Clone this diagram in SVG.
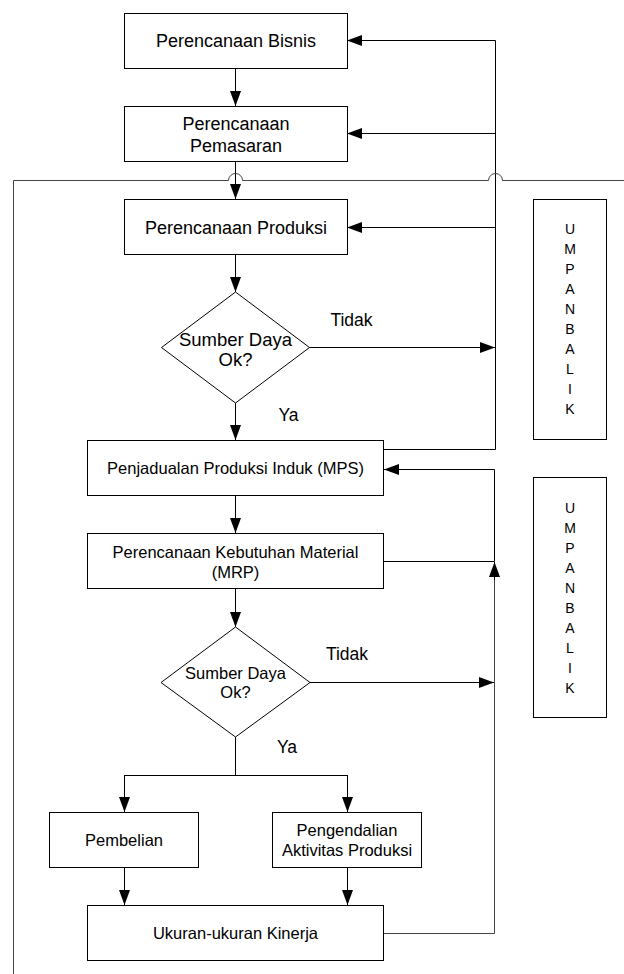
<svg xmlns="http://www.w3.org/2000/svg" width="624" height="974" viewBox="0 0 624 974">
  <style>
    .box { fill: #fff; stroke: #000; stroke-width: 1; }
    .lbl { font-family: "Liberation Sans", Arial, sans-serif; font-size: 18px; fill: #000; text-anchor: middle; }
    .sm { font-size: 16.5px; }
    .dl { font-size: 18.5px; }
    .tg { font-size: 17.5px; }
    .vl { font-family: "Liberation Sans", Arial, sans-serif; font-size: 14px; fill: #000; text-anchor: middle; }
    .ln { fill: none; stroke: #000; stroke-width: 1; }
    .gr { fill: none; stroke: #444; stroke-width: 1; }
    .arr { marker-end: url(#ah); }
  </style>
  <defs>
    <marker id="ah" markerUnits="userSpaceOnUse" markerWidth="15" markerHeight="11" refX="15" refY="5.5" orient="auto">
      <path d="M0,0 L15,5.5 L0,11 z" fill="#000"/>
    </marker>
  </defs>
  <rect width="624" height="974" fill="#fff"/>

  <g id="connectors">
    <!-- main downward flow -->
    <path class="ln arr" d="M235.5,68 V106"/>
    <path class="ln" d="M235.5,162 V199"/>
    <path class="ln arr" d="M235.5,175 V199"/>
    <path class="ln arr" d="M235.5,254 V292"/>
    <path class="ln arr" d="M235.5,403 V440"/>
    <path class="ln arr" d="M235.5,496 V533"/>
    <path class="ln arr" d="M235.5,589 V627"/>
    <path class="ln" d="M235.5,737 V775.5 M124.5,775.5 H347.5"/>
    <path class="ln arr" d="M124.5,775 V812"/>
    <path class="ln arr" d="M347.5,775 V812"/>
    <path class="ln arr" d="M124.5,868 V905"/>
    <path class="ln arr" d="M347.5,868 V905"/>

    <!-- upper feedback loop -->
    <path class="ln" d="M384,449.5 H495.5 V40.5"/>
    <path class="ln arr" d="M495.5,40.5 H347"/>
    <path class="ln arr" d="M495.5,133.5 H347"/>
    <path class="ln arr" d="M495.5,227.5 H347"/>
    <path class="ln arr" d="M309,347.5 H495"/>

    <!-- lower feedback loop -->
    <path class="gr" d="M384,933.5 H494.5 V577"/>
    <path class="ln arr" d="M494.5,580 V562"/>
    <path class="ln" d="M384,561.5 H494.5 V469.5"/>
    <path class="ln arr" d="M494.5,469.5 H384"/>
    <path class="ln arr" d="M310,682.5 H494"/>

    <!-- crossing line with hops -->
    <path class="gr" d="M13.5,180.5 H228.5 A7,7 0 0 1 242.5,180.5 H488.5 A7,7 0 0 1 502.5,180.5 H624"/>
    <path class="gr" d="M13.5,180.5 V974"/>
  </g>

  <g id="n-bisnis">
    <rect class="box" x="124.5" y="13.5" width="223" height="55"/>
    <text class="lbl" x="236" y="46.5">Perencanaan Bisnis</text>
  </g>
  <g id="n-pemasaran">
    <rect class="box" x="124.5" y="106.5" width="223" height="55"/>
    <text class="lbl" x="236" y="129.5">Perencanaan</text>
    <text class="lbl" x="236" y="151.5">Pemasaran</text>
  </g>
  <g id="n-produksi">
    <rect class="box" x="124.5" y="199.5" width="223" height="55"/>
    <text class="lbl" x="236" y="233.5">Perencanaan Produksi</text>
  </g>
  <g id="d-sumber1">
    <polygon class="box" points="235.5,292 309.5,347.5 235.5,403 161.5,347.5"/>
    <text class="lbl dl" x="235.5" y="346">Sumber Daya</text>
    <text class="lbl dl" x="235.5" y="366">Ok?</text>
  </g>
  <g id="lbl-tidak1"><text class="lbl tg" x="351.5" y="326">Tidak</text></g>
  <g id="lbl-ya1"><text class="lbl tg" x="288.5" y="421">Ya</text></g>
  <g id="n-mps">
    <rect class="box" x="87.5" y="440.5" width="296" height="55"/>
    <text class="lbl sm" x="235.5" y="474">Penjadualan Produksi Induk (MPS)</text>
  </g>
  <g id="n-mrp">
    <rect class="box" x="87.5" y="533.5" width="296" height="55"/>
    <text class="lbl sm" x="235.5" y="558">Perencanaan Kebutuhan Material</text>
    <text class="lbl sm" x="235.5" y="578">(MRP)</text>
  </g>
  <g id="d-sumber2">
    <polygon class="box" points="235.5,627 310,682.5 235.5,737 161,682.5"/>
    <text class="lbl sm" x="235.5" y="679">Sumber Daya</text>
    <text class="lbl sm" x="235.5" y="698">Ok?</text>
  </g>
  <g id="lbl-tidak2"><text class="lbl tg" x="347" y="660">Tidak</text></g>
  <g id="lbl-ya2"><text class="lbl tg" x="287" y="753">Ya</text></g>
  <g id="n-pembelian">
    <rect class="box" x="49.5" y="812.5" width="149" height="55"/>
    <text class="lbl sm" x="124" y="846">Pembelian</text>
  </g>
  <g id="n-pengendalian">
    <rect class="box" x="272.5" y="812.5" width="149" height="55"/>
    <text class="lbl sm" x="347" y="836">Pengendalian</text>
    <text class="lbl sm" x="347" y="856">Aktivitas Produksi</text>
  </g>
  <g id="n-kinerja">
    <rect class="box" x="87.5" y="905.5" width="296" height="55"/>
    <text class="lbl sm" x="235.5" y="939">Ukuran-ukuran Kinerja</text>
  </g>

  <g id="n-umpanbalik1">
    <rect class="box" x="533.5" y="199.5" width="73" height="240"/>
    <text class="vl" x="570" y="234">U</text>
    <text class="vl" x="570" y="254">M</text>
    <text class="vl" x="570" y="274">P</text>
    <text class="vl" x="570" y="294">A</text>
    <text class="vl" x="570" y="314">N</text>
    <text class="vl" x="570" y="334">B</text>
    <text class="vl" x="570" y="354">A</text>
    <text class="vl" x="570" y="374">L</text>
    <text class="vl" x="570" y="394">I</text>
    <text class="vl" x="570" y="414">K</text>
  </g>
  <g id="n-umpanbalik2">
    <rect class="box" x="533.5" y="477.5" width="73" height="240"/>
    <text class="vl" x="570" y="513">U</text>
    <text class="vl" x="570" y="533">M</text>
    <text class="vl" x="570" y="553">P</text>
    <text class="vl" x="570" y="573">A</text>
    <text class="vl" x="570" y="593">N</text>
    <text class="vl" x="570" y="613">B</text>
    <text class="vl" x="570" y="633">A</text>
    <text class="vl" x="570" y="653">L</text>
    <text class="vl" x="570" y="673">I</text>
    <text class="vl" x="570" y="693">K</text>
  </g>
</svg>
